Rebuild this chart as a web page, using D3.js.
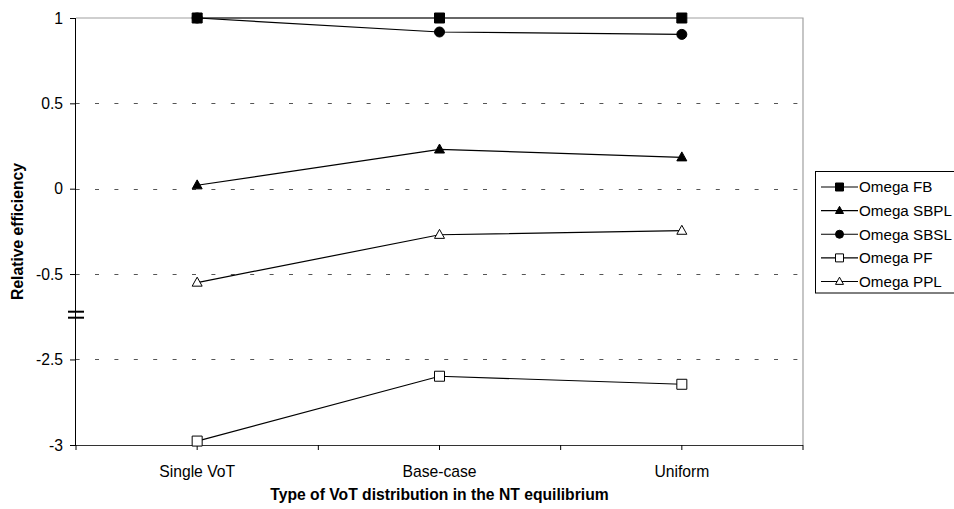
<!DOCTYPE html>
<html>
<head>
<meta charset="utf-8">
<script src="https://cdn.jsdelivr.net/npm/d3@7"></script>
<style>
html,body{margin:0;padding:0;background:#fff;}
svg{display:block;font-family:Arial,"Liberation Sans",sans-serif;}
</style>
</head>
<body>
<svg id="chart" width="954" height="509"></svg>
<script>
const categories = ["Single VoT", "Base-case", "Uniform"];
const seriesNames = ["Omega FB", "Omega SBPL", "Omega SBSL", "Omega PF", "Omega PPL"];
const omegaFB   = [1, 1, 1];
const omegaSBPL = [0.02, 0.23, 0.184];
const omegaSBSL = [1, 0.918, 0.904];
const omegaPF   = [-2.977, -2.598, -2.645];
const omegaPPL  = [-0.55, -0.27, -0.246];
const yTicks = [1, 0.5, 0, -0.5, -2.5, -3];
const yGrid = [0.5, 0, -0.5, -2.5];
const xTitle = "Type of VoT distribution in the NT equilibrium";
const yTitle = "Relative efficiency";

const series = [
  {name: seriesNames[0], values: omegaFB,   shape: "square",   fill: "#000"},
  {name: seriesNames[1], values: omegaSBPL, shape: "triangle", fill: "#000"},
  {name: seriesNames[2], values: omegaSBSL, shape: "circle",   fill: "#000"},
  {name: seriesNames[3], values: omegaPF,   shape: "square",   fill: "#fff"},
  {name: seriesNames[4], values: omegaPPL,  shape: "triangle", fill: "#fff"}
];

const svg = d3.select("#chart");
const L = 76, R = 803, T = 18, B = 445;
const fs = "15.7px";

const x = d3.scaleBand().domain(categories).range([L, R]).padding(0);
// broken axis: piecewise linear scale, gap between -2.25 and -0.75
const yBreak = 316.7;
const y = d3.scaleLinear().domain([-3, -2.25, -0.75, 1]).range([B, yBreak, yBreak, T]);

// gridlines
svg.append("g").selectAll("line").data(yGrid).join("line")
  .attr("x1", L).attr("x2", R)
  .attr("y1", d => Math.round(y(d)) + 0.5).attr("y2", d => Math.round(y(d)) + 0.5)
  .attr("stroke", "#555").attr("stroke-width", 1)
  .attr("stroke-dasharray", "4,15.4").attr("stroke-dashoffset", 0.4);

// plot border (top, right)
svg.append("path")
  .attr("d", `M${L},${T}H${R}V${B}`)
  .attr("fill", "none").attr("stroke", "#a0a0a0").attr("stroke-width", 1.2);

// y axis
const yAxis = d3.axisLeft(y).tickValues(yTicks).tickSize(6).tickPadding(7)
  .tickFormat(d => String(d));
const gy = svg.append("g").attr("transform", `translate(${L},0)`).call(yAxis);
gy.select(".domain").attr("stroke", "#000").attr("d", `M-0.5,${T}V${B}`);
gy.selectAll(".tick line").attr("stroke", "#000");
gy.selectAll(".tick text").attr("font-size", fs).attr("font-family", "Arial,'Liberation Sans',sans-serif").attr("fill", "#000");

// x axis with ticks at centers and boundaries
const xAxis = d3.axisBottom(x).tickSize(0).tickPadding(21);
const gx = svg.append("g").attr("transform", `translate(0,${B})`).call(xAxis);
gx.select(".domain").attr("stroke", "#333").attr("d", `M${L},0.5H${R}`);
gx.selectAll(".tick text").attr("font-size", fs).attr("font-family", "Arial,'Liberation Sans',sans-serif").attr("fill", "#000");
const tickXs = [];
categories.forEach(c => { tickXs.push(x(c)); tickXs.push(x(c) + x.bandwidth() / 2); });
tickXs.push(R);
gx.append("g").selectAll("line").data(tickXs).join("line")
  .attr("x1", d => d).attr("x2", d => d).attr("y1", 0).attr("y2", 5)
  .attr("stroke", "#000");

// break mark
svg.append("g").selectAll("line").data([-3, 3]).join("line")
  .attr("x1", L - 8).attr("x2", L + 8)
  .attr("y1", d => yBreak - 2 + d).attr("y2", d => yBreak - 2 + d)
  .attr("stroke", "#000").attr("stroke-width", 2);

// axis titles
svg.append("text").attr("x", x.range()[0] + (x.range()[1] - x.range()[0]) / 2).attr("y", 500)
  .attr("text-anchor", "middle").attr("font-size", fs).attr("font-weight", "bold").text(xTitle);
svg.append("text").attr("transform", `translate(23,${(T + B) / 2}) rotate(-90)`)
  .attr("text-anchor", "middle").attr("font-size", fs).attr("font-weight", "bold").text(yTitle);

// markers
const symbolPath = (shape, size) => {
  if (shape === "square") return `M${-size/2},${-size/2}h${size}v${size}h${-size}Z`;
  if (shape === "triangle") { const h = size * 0.9; return `M0,${-h*0.6}L${size/2},${h*0.4}L${-size/2},${h*0.4}Z`; }
  const r = size / 2;
  return `M${-r},0A${r},${r} 0 1,0 ${r},0A${r},${r} 0 1,0 ${-r},0Z`;
};

const cx = c => x(c) + x.bandwidth() / 2;
const line = d3.line().x(d => cx(d.c)).y(d => y(d.v));

series.forEach(s => {
  const pts = categories.map((c, i) => ({c, v: s.values[i]}));
  const g = svg.append("g");
  g.append("path").attr("d", line(pts)).attr("fill", "none").attr("stroke", "#000").attr("stroke-width", 1.2);
  g.selectAll("path.m").data(pts).join("path").attr("class", "m")
    .attr("transform", d => `translate(${cx(d.c)},${y(d.v)})`)
    .attr("d", symbolPath(s.shape, 10))
    .attr("fill", s.fill).attr("stroke", "#000").attr("stroke-width", 1);
});

// legend
const lg = svg.append("g");
lg.append("rect").attr("x", 815.5).attr("y", 171.5).attr("width", 160).attr("height", 121.5)
  .attr("fill", "#fff").attr("stroke", "#000").attr("stroke-width", 1);
const rowY = d3.scalePoint().domain(seriesNames).range([187, 281.5]);
series.forEach(s => {
  const yy = rowY(s.name);
  lg.append("line").attr("x1", 821).attr("x2", 858).attr("y1", yy).attr("y2", yy)
    .attr("stroke", "#000").attr("stroke-width", 1.2);
  lg.append("path").attr("transform", `translate(839.5,${yy})`).attr("d", symbolPath(s.shape, 8))
    .attr("fill", s.fill).attr("stroke", "#000").attr("stroke-width", 1);
  lg.append("text").attr("x", 859).attr("y", yy).attr("dy", "0.36em")
    .attr("font-size", "15.2px").text(s.name);
});
</script>
</body>
</html>
